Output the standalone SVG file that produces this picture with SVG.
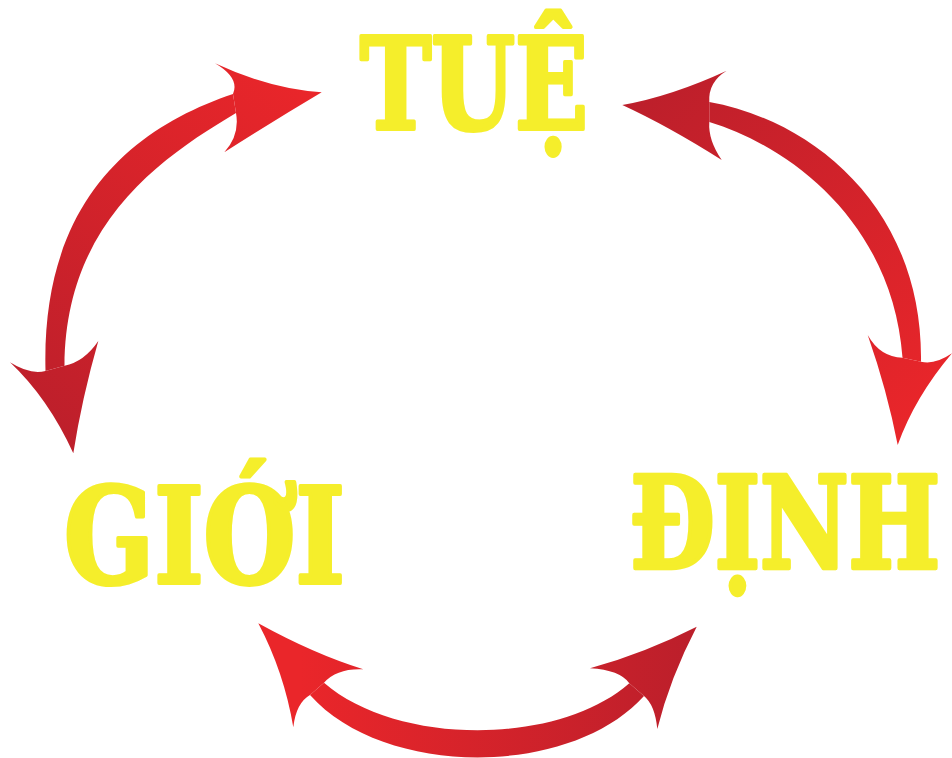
<svg xmlns="http://www.w3.org/2000/svg" width="952" height="758" viewBox="0 0 952 758">
  <defs>
    <linearGradient id="g1" gradientUnits="userSpaceOnUse" x1="320" y1="90" x2="20" y2="420">
      <stop offset="0" stop-color="#EA262A"/>
      <stop offset="1" stop-color="#BC1F2B"/>
    </linearGradient>
    <linearGradient id="g2" gradientUnits="userSpaceOnUse" x1="630" y1="100" x2="930" y2="420">
      <stop offset="0" stop-color="#BC1F2B"/>
      <stop offset="1" stop-color="#EA262A"/>
    </linearGradient>
    <linearGradient id="g3" gradientUnits="userSpaceOnUse" x1="300" y1="680" x2="690" y2="680">
      <stop offset="0" stop-color="#EA262A"/>
      <stop offset="1" stop-color="#BC1F2B"/>
    </linearGradient>
    <style>
      .word { font-family: "DejaVu Serif Condensed", "DejaVu Serif", "Liberation Serif", serif; font-weight: bold; fill: #F5EE2B; stroke: #F5EE2B; stroke-width: 4; stroke-linejoin: round; }
    </style>
  </defs>
  <rect width="952" height="758" fill="#FFFFFF"/>

  <g id="connectors">
    <g id="arrow-tue-gioi" fill="url(#g1)">
      <path d="M233 94 C135 127 41 200 45.5 371 L64.5 365.7 C65 220 166 155 236 113 Z"/>
      <path d="M215 63.3 Q270 89 321.7 92.3 Q275 120 224.3 152.3 Q240 135 236 113 L233 94 Q240 78 215 63.3 Z"/>
      <path d="M10 362.3 Q48 398 73.3 453.3 Q82 398 98.3 341 Q84 362 64.5 365.7 L45.5 371 Q30 375 10 362.3 Z"/>
    </g>
    <g id="arrow-tue-dinh" fill="url(#g2)">
      <path d="M709.3 102 C815 121 923 210 921 361.7 L902.5 357.7 C893 228 797 149 709.3 122 Z"/>
      <path d="M726.7 70.7 Q672 96 622.3 105 Q668 126 721.7 160 Q708 140 709.3 122 L709.3 102 Q708 82 726.7 70.7 Z"/>
      <path d="M867.7 335 Q887 390 897.7 445 Q915 397 952 353.3 Q935 365 921 361.7 L902.5 357.7 Q880 357 867.7 335 Z"/>
    </g>
    <g id="arrow-gioi-dinh" fill="url(#g3)">
      <path d="M324 682.7 C397 746 558 746 629.3 683.3 L644 696 C570 778 384 778 310 695 Z"/>
      <path d="M258.3 623.3 Q314 654 363.3 669.3 Q337 668 324 682.7 L310 695 Q296 703 293.3 727.3 Q284 672 258.3 623.3 Z"/>
      <path d="M696.7 626.7 Q645 653 590 668.3 Q620 670 629.3 683.3 L644 696 Q655 705 657.3 729 Q670 678 696.7 626.7 Z"/>
    </g>
  </g>

  <g id="node-tue">
    <text class="word" x="360" y="129" font-size="128" textLength="228" lengthAdjust="spacingAndGlyphs">TUỆ</text>
  </g>
  <g id="node-gioi">
    <text class="word" x="64" y="583" font-size="132" textLength="281" lengthAdjust="spacingAndGlyphs">GIỚI</text>
  </g>
  <g id="node-dinh" transform="translate(630 568) scale(1 1.28)">
    <text class="word" x="0" y="0" font-size="100" style="stroke-width:3.5" textLength="310" lengthAdjust="spacingAndGlyphs">ĐỊNH</text>
  </g>
</svg>
